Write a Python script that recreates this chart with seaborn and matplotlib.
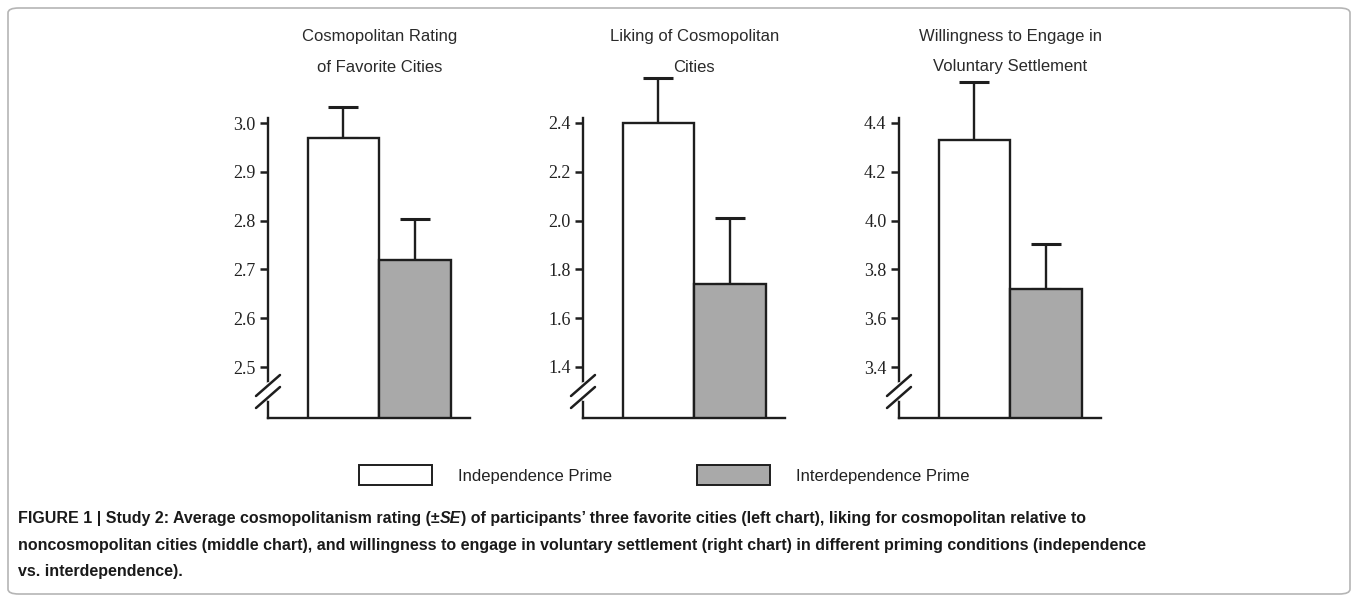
import matplotlib
matplotlib.use("Agg")
import matplotlib.pyplot as plt
import seaborn as sns
import numpy as np
from matplotlib.patches import Patch, FancyBboxPatch
from matplotlib.transforms import blended_transform_factory

sns.set_style("white")
plt.rcParams['font.family'] = ['Liberation Sans', 'DejaVu Sans']

# data
conditions = ["Independence Prime", "Interdependence Prime"]
titles = ["Cosmopolitan Rating\nof Favorite Cities",
          "Liking of Cosmopolitan\nCities",
          "Willingness to Engage in\nVoluntary Settlement"]
means_rating = [2.97, 2.72]
se_rating = [0.063, 0.084]
means_liking = [2.40, 1.74]
se_liking = [0.185, 0.27]
means_settle = [4.33, 3.72]
se_settle = [0.24, 0.183]
ticks_rating = [2.5, 2.6, 2.7, 2.8, 2.9, 3.0]
ticks_liking = [1.4, 1.6, 1.8, 2.0, 2.2, 2.4]
ticks_settle = [3.4, 3.6, 3.8, 4.0, 4.2, 4.4]

colors = ["#ffffff", "#a9a9a9"]
edge = "#1e1e1e"

W, H = 1358, 602
fig = plt.figure(figsize=(W / 100, H / 100), dpi=100)

# outer frame
fig.patches.append(FancyBboxPatch((8 / W, 8 / H), 1342 / W, 586 / H,
                                  boxstyle="round,pad=0,rounding_size=0.008",
                                  transform=fig.transFigure, fill=False,
                                  edgecolor="#b5b5b5", linewidth=1.2))

panels = [(means_rating, se_rating, ticks_rating, 268),
          (means_liking, se_liking, ticks_liking, 583),
          (means_settle, se_settle, ticks_settle, 899)]

ax_bottom_px, ax_top_px = 418, 60
tick_lo_px, tick_hi_px = 367, 123
ax_w_px = 202

for (means, ses, ticks, left_px), title in zip(panels, titles):
    ax = fig.add_axes([left_px / W, (H - ax_bottom_px) / H, ax_w_px / W,
                       (ax_bottom_px - ax_top_px) / H])
    sns.barplot(x=conditions, y=means, hue=conditions, palette=colors,
                legend=False, width=1.0, edgecolor=edge, linewidth=1.7,
                saturation=1, ax=ax, zorder=2)
    ax.errorbar([0, 1], means, yerr=[[0, 0], ses], fmt="none", ecolor=edge,
                elinewidth=1.7, capsize=10.5, capthick=2.2, zorder=1)

    px_per_unit = (tick_lo_px - tick_hi_px) / (ticks[-1] - ticks[0])
    ymin = ticks[0] - (ax_bottom_px - tick_lo_px) / px_per_unit
    ymax = ticks[-1] + (tick_hi_px - ax_top_px) / px_per_unit
    ax.set_ylim(ymin, ymax)
    ax.set_xlim(-1.05, 1.76)

    ax.set_yticks(ticks)
    ax.set_yticklabels([f"{t:.1f}" for t in ticks], family="Liberation Serif",
                       fontsize=13, color="#222222")
    ax.set_xticks([])
    ax.set_xlabel("")
    ax.set_ylabel("")
    ax.tick_params(axis="y", direction="out", length=6, width=1.8,
                   color=edge, pad=3, left=True)
    for s in ["top", "right"]:
        ax.spines[s].set_visible(False)
    for s in ["left", "bottom"]:
        ax.spines[s].set_color(edge)
        ax.spines[s].set_linewidth(1.7)
    ax.spines["left"].set_bounds(ymin, ticks[-1] + 5 / px_per_unit)

    # axis break marks
    hpx = ax_bottom_px - ax_top_px
    ax.plot([0, 0], [34 / hpx, 20 / hpx], color="white", lw=3.5,
            transform=ax.transAxes, clip_on=False, zorder=5)
    for y0 in (22, 10):
        ax.plot([-12 / ax_w_px, 12 / ax_w_px],
                [y0 / hpx, (y0 + 21) / hpx], color=edge, lw=1.8,
                transform=ax.transAxes, clip_on=False, zorder=6)

    tr = blended_transform_factory(ax.transData, fig.transFigure)
    ax.text(0.5, (H - 52) / H, title, transform=tr, ha="center", va="center",
            fontsize=12, color="#2a2a2a", linespacing=2.25)

handles = [Patch(facecolor=c, edgecolor=edge, linewidth=1.4) for c in colors]
fig.legend(handles, conditions, loc="center", ncol=2, frameon=False,
           bbox_to_anchor=(664 / W, (H - 475) / H), fontsize=12,
           handlelength=4.4, handleheight=1.5, handletextpad=1.55,
           columnspacing=5.1, labelcolor="#222222")

# caption
cap_font = ['Liberation Sans Narrow', 'Liberation Sans']
cap_kw = dict(fontsize=11.5, fontweight="bold", color="#1a1a1a", family=cap_font,
              va="bottom", ha="left")
t1 = fig.text(18 / W, (H - 526) / H,
              "FIGURE 1 | Study 2: Average cosmopolitanism rating (\u00b1", **cap_kw)
t2 = fig.add_artist(plt.Annotation("SE", xy=(1, 0), xycoords=t1, style="italic",
                                   **cap_kw))
fig.add_artist(plt.Annotation(
    ") of participants\u2019 three favorite cities (left chart), liking for cosmopolitan relative to",
    xy=(1, 0), xycoords=t2, **cap_kw))
fig.text(18 / W, (H - 553) / H,
         "noncosmopolitan cities (middle chart), and willingness to engage in voluntary settlement (right chart) in different priming conditions (independence",
         **cap_kw)
fig.text(18 / W, (H - 579) / H, "vs. interdependence).", **cap_kw)

fig.savefig("out.png", dpi=100)
